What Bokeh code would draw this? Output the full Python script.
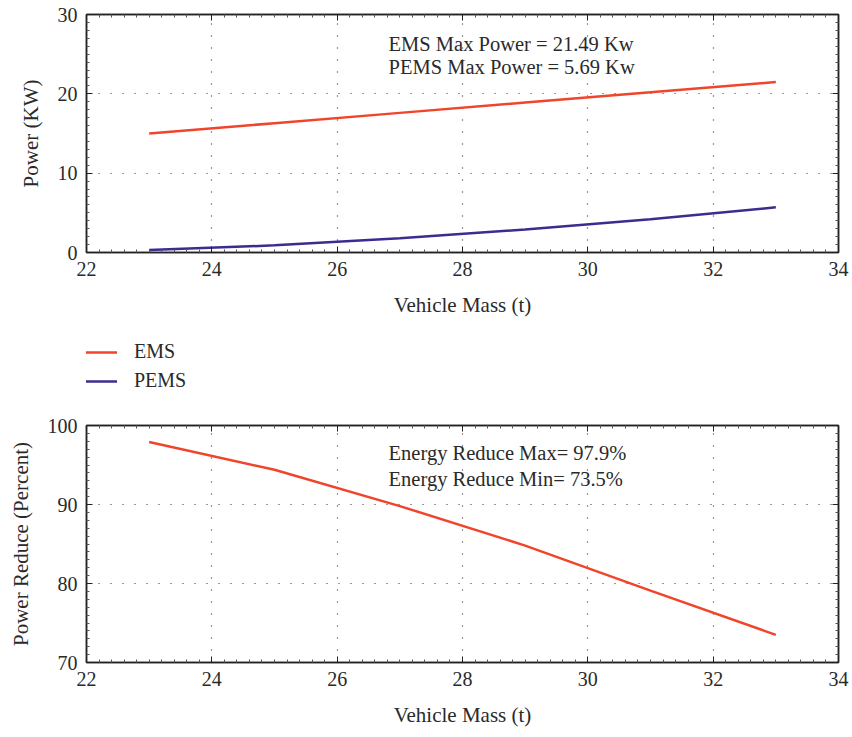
from bokeh.plotting import figure
from bokeh.layouts import column
from bokeh.models import (LinearAxis, FixedTicker, Label, Legend, LegendItem,
                          Range1d, CustomJSTickFormatter)
from bokeh.embed import file_html
from bokeh.resources import INLINE

# ---- data ----
mass = [23, 25, 27, 29, 31, 33]
ems_power = [15.0, 16.3, 17.6, 18.9, 20.2, 21.49]
pems_power = [0.3, 0.9, 1.8, 2.9, 4.2, 5.69]
power_reduce = [97.9, 94.4, 89.8, 84.8, 79.1, 73.5]

x_ticks = [22, 24, 26, 28, 30, 32, 34]
y_ticks_top = [0, 10, 20, 30]
y_ticks_bot = [70, 80, 90, 100]

EMS_COLOR = "#f0452b"
PEMS_COLOR = "#3b2c8f"
FONT = "Liberation Serif"
TICK_FONT = "'Liberation Serif', serif"
TXT = "#2a2a2a"
W = 852
FS = "20px"


def minor(ticks, n=10):
    out = []
    for a, b in zip(ticks[:-1], ticks[1:]):
        step = (b - a) / n
        out += [a + i * step for i in range(1, n)]
    return out


def style_axis(ax, ticks, labels=True):
    ax.ticker = FixedTicker(ticks=ticks, minor_ticks=minor(ticks))
    ax.axis_line_color = "#222222"
    ax.axis_line_width = 1.5
    ax.major_tick_in = 6
    ax.major_tick_out = 0
    ax.minor_tick_in = 3
    ax.minor_tick_out = 0
    ax.major_tick_line_color = "#222222"
    ax.minor_tick_line_color = "#555555"
    ax.major_label_text_font = TICK_FONT
    ax.major_label_text_font_size = FS
    ax.major_label_text_color = TXT
    ax.axis_label_text_font = FONT
    ax.axis_label_text_font_size = "21px"
    ax.axis_label_text_font_style = "normal"
    ax.axis_label_text_color = TXT
    if not labels:
        ax.formatter = CustomJSTickFormatter(code="return ''")
        ax.major_label_standoff = 0


def make_fig(height, yr, yticks, ylabel, top_border, bottom_border):
    p = figure(width=W, height=height, output_backend="svg", toolbar_location=None,
               x_range=Range1d(22, 34), y_range=Range1d(*yr),
               min_border_left=86, min_border_right=14,
               min_border_top=top_border, min_border_bottom=bottom_border)
    p.outline_line_color = "#222222"
    p.outline_line_width = 1.5
    style_axis(p.xaxis[0], x_ticks)
    style_axis(p.yaxis[0], yticks)
    p.xaxis[0].axis_label = "Vehicle Mass (t)"
    p.xaxis[0].major_label_standoff = 9
    p.xaxis[0].axis_label_standoff = 14
    p.yaxis[0].axis_label = ylabel
    p.yaxis[0].major_label_standoff = 9
    p.yaxis[0].axis_label_standoff = 12
    ta = LinearAxis()
    style_axis(ta, x_ticks, labels=False)
    ra = LinearAxis()
    style_axis(ra, yticks, labels=False)
    p.add_layout(ta, "above")
    p.add_layout(ra, "right")
    for g in (p.xgrid[0], p.ygrid[0]):
        g.grid_line_color = "#333333"
        g.grid_line_dash = "1 11"
        g.grid_line_width = 1.2
    p.xgrid[0].ticker = FixedTicker(ticks=x_ticks)
    p.ygrid[0].ticker = FixedTicker(ticks=yticks)
    return p


# ---- top chart ----
p1 = make_fig(330, (0, 30), y_ticks_top, "Power (KW)", 14, 78)
p1.line(mass, ems_power, line_color=EMS_COLOR, line_width=2.5)
p1.line(mass, pems_power, line_color=PEMS_COLOR, line_width=2.5)
for txt, yy in (("EMS Max Power = 21.49 Kw", 26.34), ("PEMS Max Power = 5.69 Kw", 23.32)):
    p1.add_layout(Label(x=26.82, y=yy, text=txt, text_font=FONT, text_font_size="20.5px",
                        text_color=TXT, text_baseline="middle"))

# ---- legend strip ----
pl = figure(width=W, height=70, output_backend="svg", toolbar_location=None,
            x_range=Range1d(0, 1), y_range=Range1d(0, 1),
            x_axis_location=None, y_axis_location=None,
            min_border_left=0, min_border_right=0, min_border_top=0, min_border_bottom=0)
pl.outline_line_color = None
pl.grid.visible = False
r1 = pl.line([-5, -4], [-5, -4], line_color=EMS_COLOR, line_width=2.5)
r2 = pl.line([-5, -4], [-5, -4], line_color=PEMS_COLOR, line_width=2.5)
leg = Legend(items=[LegendItem(label="EMS", renderers=[r1]),
                    LegendItem(label="PEMS", renderers=[r2])],
             location=(-3, 8), border_line_color=None, background_fill_alpha=0,
             label_text_font=FONT, label_text_font_size="20px", label_text_color=TXT,
             glyph_width=34, glyph_height=20, spacing=6, label_standoff=17,
             padding=0, margin=0)
pl.add_layout(leg, "center")

# ---- bottom chart ----
p2 = make_fig(337, (70, 100), y_ticks_bot, "Power Reduce (Percent)", 25, 75)
p2.line(mass, power_reduce, line_color=EMS_COLOR, line_width=2.5)
for txt, yy in (("Energy Reduce Max= 97.9%", 96.46), ("Energy Reduce Min= 73.5%", 93.29)):
    p2.add_layout(Label(x=26.82, y=yy, text=txt, text_font=FONT, text_font_size="20.5px",
                        text_color=TXT, text_baseline="middle"))

layout = column(p1, pl, p2, spacing=0)
open("out.html", "w").write(file_html(layout, INLINE))
